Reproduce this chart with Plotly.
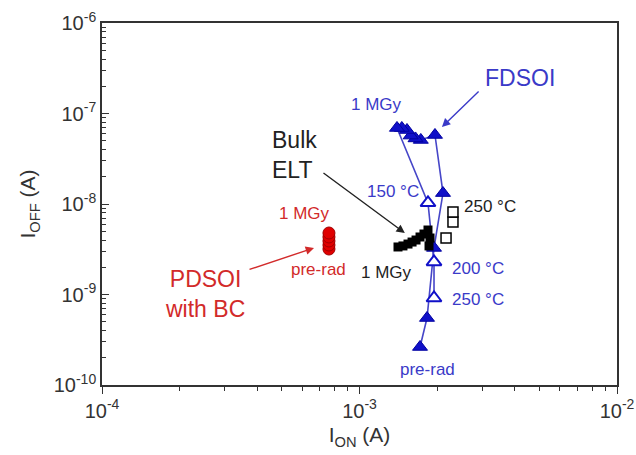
import numpy as np
import plotly.graph_objects as go

# ---------------- data ----------------
# FDSOI, irradiation path: pre-rad -> 1 MGy (filled triangles)
fd_irr_ion = [1.718e-3, 1.829e-3, 1.947e-3, 2.110e-3, 1.964e-3, 1.730e-3, 1.650e-3, 1.580e-3, 1.529e-3, 1.460e-3, 1.398e-3]
fd_irr_ioff = [2.63e-10, 5.50e-10, 3.27e-9, 1.32e-8, 5.79e-8, 5.10e-8, 5.30e-8, 5.70e-8, 6.57e-8, 6.92e-8, 6.92e-8]
# FDSOI, annealing path: 1 MGy -> 150 C -> 200 C -> 250 C (open triangles)
fd_ann_ion = [1.398e-3, 1.845e-3, 1.947e-3, 1.947e-3]
fd_ann_ioff = [6.92e-8, 1.03e-8, 2.29e-9, 9.15e-10]

# Bulk ELT, irradiation (filled squares)
bulk_irr_ion = [1.411e-3, 1.475e-3, 1.543e-3, 1.600e-3, 1.658e-3, 1.718e-3, 1.780e-3, 1.845e-3, 1.879e-3, 1.862e-3]
bulk_irr_ioff = [3.35e-9, 3.44e-9, 3.61e-9, 3.80e-9, 4.00e-9, 4.32e-9, 4.66e-9, 5.16e-9, 4.21e-9, 3.44e-9]
# Bulk ELT, annealing (open squares)
bulk_ann_ion = [2.168e-3, 2.307e-3, 2.307e-3]
bulk_ann_ioff = [4.21e-9, 6.32e-9, 8.16e-9]

# PDSOI with BC (red circles)
pd_ion = [7.61e-4, 7.61e-4, 7.61e-4, 7.61e-4, 7.61e-4]
pd_ioff = [3.18e-9, 3.52e-9, 3.90e-9, 4.32e-9, 4.78e-9]

x_ticks = [1e-4, 1e-3, 1e-2]
x_ticktext = ["10<sup>-4</sup>", "10<sup>-3</sup>", "10<sup>-2</sup>"]
y_ticks = [1e-10, 1e-9, 1e-8, 1e-7, 1e-6]
y_ticktext = ["10<sup>-10</sup>", "10<sup>-9</sup>", "10<sup>-8</sup>", "10<sup>-7</sup>", "10<sup>-6</sup>"]

# ---------------- styles ----------------
BLUE = "#1010c8"
BLUE_LINE = "#4646c8"
BLUE_TXT = "#3a3ac8"
RED = "#e00000"
RED_TXT = "#d22a2a"
FONT = "Arial, Liberation Sans, sans-serif"

fig = go.Figure()

fig.add_trace(go.Scatter(x=fd_ann_ion, y=fd_ann_ioff, mode="lines",
                         line=dict(color=BLUE_LINE, width=1.6), hoverinfo="skip"))
fig.add_trace(go.Scatter(x=fd_irr_ion, y=fd_irr_ioff, mode="lines+markers",
                         line=dict(color=BLUE_LINE, width=1.6),
                         marker=dict(symbol="triangle-up", size=13, color=BLUE,
                                     line=dict(color="#0000a0", width=1))))
fig.add_trace(go.Scatter(x=bulk_irr_ion, y=bulk_irr_ioff, mode="markers",
                         marker=dict(symbol="square", size=9, color="black")))
fig.add_trace(go.Scatter(x=bulk_ann_ion, y=bulk_ann_ioff, mode="markers",
                         marker=dict(symbol="square", size=10, color="white",
                                     line=dict(color="black", width=1.5))))
fig.add_trace(go.Scatter(x=fd_ann_ion[1:], y=fd_ann_ioff[1:], mode="markers",
                         marker=dict(symbol="triangle-up", size=13, color="white",
                                     line=dict(color=BLUE, width=2))))
fig.add_trace(go.Scatter(x=pd_ion, y=pd_ioff, mode="markers",
                         marker=dict(symbol="circle", size=12, color=RED,
                                     line=dict(color="#a00000", width=1))))

L = np.log10


def label(text, x, y, color, size, xanchor="center", align="center"):
    fig.add_annotation(x=L(x), y=L(y), xref="x", yref="y", text=text, showarrow=False,
                       xanchor=xanchor, yanchor="middle", align=align,
                       font=dict(family=FONT, size=size, color=color))


def arrow(x0, y0, x1, y1, color):
    fig.add_annotation(x=L(x1), y=L(y1), ax=L(x0), ay=L(y0), xref="x", yref="y",
                       axref="x", ayref="y", text="", showarrow=True,
                       arrowhead=2, arrowsize=1.2, arrowwidth=1.4, arrowcolor=color)


label("FDSOI", 4.20e-3, 2.47e-7, BLUE_TXT, 23)
arrow(2.94e-3, 1.82e-7, 2.09e-3, 7.1e-8, BLUE_TXT)
label("1 MGy", 1.16e-3, 1.27e-7, BLUE_TXT, 17)
label("150 °C", 1.35e-3, 1.36e-8, BLUE_TXT, 17)
label("200 °C", 2.25e-3, 1.96e-9, BLUE_TXT, 17, xanchor="left")
label("250 °C", 2.25e-3, 8.7e-10, BLUE_TXT, 17, xanchor="left")
label("pre-rad", 1.83e-3, 1.50e-10, BLUE_TXT, 17)

label("Bulk<br>ELT", 4.49e-4, 3.47e-8, "#222222", 23, xanchor="left", align="left")
arrow(7.15e-4, 2.26e-8, 1.50e-3, 4.78e-9, "#222222")
label("250 °C", 2.50e-3, 9.5e-9, "#222222", 17, xanchor="left")
label("1 MGy", 1.27e-3, 1.77e-9, "#222222", 17)

label("1 MGy", 6.09e-4, 7.95e-9, RED_TXT, 17)
label("pre-rad", 6.90e-4, 1.91e-9, RED_TXT, 17)
label("PDSOI<br>with BC", 2.51e-4, 1.01e-9, RED_TXT, 23)
arrow(3.69e-4, 1.87e-9, 6.66e-4, 3.27e-9, RED_TXT)

minor_x = [m * 10.0 ** e for e in (-4, -3) for m in range(2, 10)]
minor_y = [m * 10.0 ** e for e in (-10, -9, -8, -7) for m in range(2, 10)]

axis_common = dict(type="log", showgrid=False, zeroline=False, showline=True,
                   linecolor="#333333", linewidth=1.6, mirror=True,
                   tickcolor="#333333", tickwidth=1.4,
                   tickfont=dict(family=FONT, size=20, color="#333333"))

fig.update_xaxes(**axis_common, range=[-4, -2], tickmode="array", tickvals=x_ticks,
                 ticktext=x_ticktext, ticks="outside", ticklen=7,
                 minor=dict(tickmode="array", tickvals=minor_x, ticks="outside",
                            ticklen=4, tickcolor="#333333", tickwidth=1.2, showgrid=False),
                 title=dict(text="I<sub>ON</sub> (A)", standoff=7,
                            font=dict(family=FONT, size=21, color="#333333")))
fig.update_yaxes(**axis_common, range=[-10, -6], tickmode="array", tickvals=y_ticks,
                 ticktext=y_ticktext, ticks="inside", ticklen=7,
                 minor=dict(tickmode="array", tickvals=minor_y, ticks="inside",
                            ticklen=4, tickcolor="#333333", tickwidth=1.2, showgrid=False),
                 title=dict(text="I<sub>OFF</sub> (A)", standoff=12,
                            font=dict(family=FONT, size=21, color="#333333")))

fig.update_layout(width=636, height=455, showlegend=False,
                  margin=dict(l=102, r=19, t=23, b=70, autoexpand=False),
                  paper_bgcolor="white", plot_bgcolor="white",
                  font=dict(family=FONT))

fig.write_html("out.html")
